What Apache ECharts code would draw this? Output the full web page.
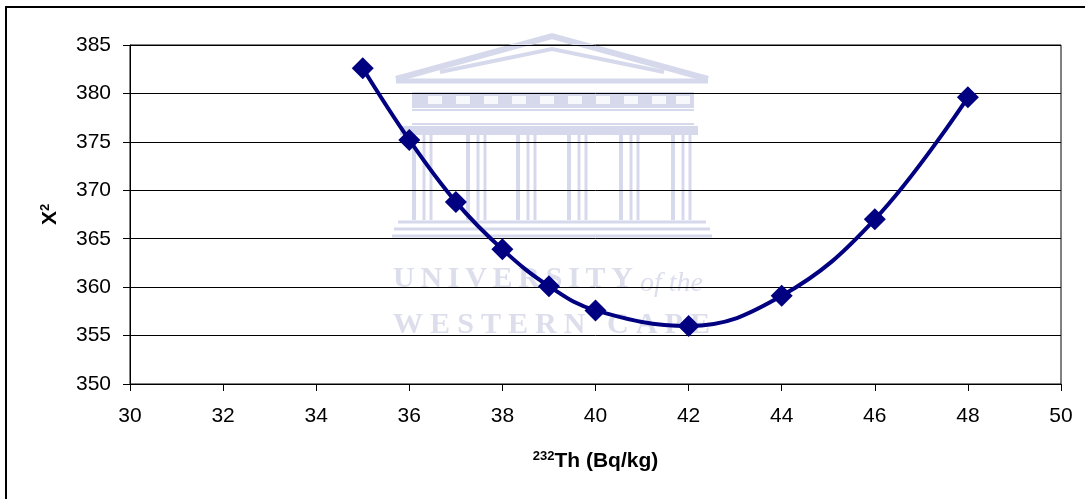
<!DOCTYPE html>
<html>
<head>
<meta charset="utf-8">
<script src="https://cdn.jsdelivr.net/npm/echarts@6/dist/echarts.min.js"></script>
<style>
  html, body { margin: 0; padding: 0; background: #fff; }
  #chart { width: 1085px; height: 499px; }
</style>
</head>
<body>
<div id="chart"></div>
<script>
// Chi-square scan over the 232Th activity concentration
const thActivity = [35, 36, 37, 38, 39, 40, 42, 44, 46, 48];
const chiSquare  = [382.6, 375.2, 368.8, 363.9, 360.1, 357.6, 356.0, 359.1, 367.0, 379.6];
const xTicks = { min: 30, max: 50, step: 2 };
const yTicks = { min: 350, max: 385, step: 5 };

const FONT = '"Liberation Sans", Arial, sans-serif';
const SERIF = '"Liberation Serif", "Times New Roman", serif';
const WM = '#d6d9eb';      // faint crest colour
const WM_TEXT = '#dcdeec';

// spread the letters of a word evenly between two x positions
const measureCtx = document.createElement('canvas').getContext('2d');
function spacedText(str, font, x0, x1, y) {
  measureCtx.font = font;
  const widths = [...str].map(c => measureCtx.measureText(c).width);
  const natural = widths.reduce((a, b) => a + b, 0);
  const gap = (x1 - x0 - natural) / (str.length - 1);
  const out = [];
  let x = x0;
  [...str].forEach((c, i) => {
    if (c !== ' ') {
      out.push({ type: 'text', z: 0, silent: true, x: x, y: y,
        style: { text: c, font: font, fill: WM_TEXT, textVerticalAlign: 'top' } });
    }
    x += widths[i] + gap;
  });
  return out;
}

// the university crest drawn lightly behind the plot
function crest() {
  const g = [];
  const line = (x1, y1, x2, y2, w) => g.push({ type: 'line', z: 0, silent: true,
    shape: { x1, y1, x2, y2 }, style: { stroke: WM, lineWidth: w } });
  const rect = (x, y, w, h, fill) => g.push({ type: 'rect', z: 0, silent: true,
    shape: { x, y, width: w, height: h }, style: { fill: fill } });
  // pediment
  g.push({ type: 'polyline', z: 0, silent: true,
    shape: { points: [[396, 79], [552, 36], [708, 79]] },
    style: { stroke: WM, lineWidth: 6, fill: null } });
  g.push({ type: 'polyline', z: 0, silent: true,
    shape: { points: [[440, 72], [552, 49], [664, 72]] },
    style: { stroke: WM, lineWidth: 4, fill: null } });
  line(396, 81, 708, 81, 5);
  // entablature with metopes
  rect(412, 92, 282, 16, WM);
  [428, 456, 484, 512, 540, 568, 596, 624, 652, 676].forEach(x => rect(x, 96, 14, 8, '#f7f8fc'));
  line(412, 110, 694, 110, 2);
  line(412, 124, 694, 124, 2);
  rect(400, 126, 298, 9, WM);
  // columns
  [422, 476, 526, 577, 629, 681].forEach(cx => {
    line(cx - 8, 135, cx - 8, 220, 4);
    line(cx + 2, 135, cx + 2, 220, 3);
    line(cx + 9, 135, cx + 9, 220, 3);
  });
  // steps
  line(398, 222, 706, 222, 3);
  line(394, 229, 710, 229, 3);
  line(392, 236, 712, 236, 3);
  return g;
}

const graphics = [
  // outer frame of the chart area
  { type: 'rect', z: 10, silent: true, shape: { x: 6, y: 7, width: 2000, height: 2000 },
    style: { stroke: '#000', lineWidth: 2, fill: null } },
  ...crest(),
  ...spacedText('UNIVERSITY', 'bold 30px ' + SERIF, 393, 633, 264),
  { type: 'text', z: 0, silent: true, x: 640, y: 270,
    style: { text: 'of the', font: 'italic 28px ' + SERIF, fill: WM_TEXT, textVerticalAlign: 'top' } },
  ...spacedText('WESTERN CAPE', 'bold 30px ' + SERIF, 393, 710, 310)
];

const nameRich = {
  sup: { fontFamily: FONT, fontSize: 13, fontWeight: 'bold', color: '#000', padding: [0, 0, 10, 0] },
  b: { fontFamily: FONT, fontSize: 21, fontWeight: 'bold', color: '#000' }
};

const chart = echarts.init(document.getElementById('chart'));
chart.setOption({
  animation: false,
  backgroundColor: '#fff',
  grid: { left: 130, right: 24, top: 45, bottom: 115, show: true,
          borderColor: '#000', borderWidth: 1, backgroundColor: 'transparent' },
  graphic: graphics,
  xAxis: {
    type: 'value',
    min: xTicks.min, max: xTicks.max, interval: xTicks.step,
    axisLine: { show: true, lineStyle: { color: '#000', width: 1 } },
    axisTick: { show: true, length: 7, lineStyle: { color: '#000' } },
    axisLabel: { color: '#000', fontFamily: FONT, fontSize: 21, margin: 22 },
    splitLine: { show: false },
    name: '{sup|232}{b|Th (Bq/kg)}',
    nameLocation: 'middle',
    nameGap: 66,
    nameTextStyle: { rich: nameRich }
  },
  yAxis: {
    type: 'value',
    min: yTicks.min, max: yTicks.max, interval: yTicks.step,
    axisLine: { show: true, lineStyle: { color: '#000', width: 1 } },
    axisTick: { show: true, length: 7, lineStyle: { color: '#000' } },
    axisLabel: { color: '#000', fontFamily: FONT, fontSize: 21, margin: 19 },
    splitLine: { show: true, lineStyle: { color: '#000', width: 1 } },
    name: '{b|X}{sup|2}',
    nameLocation: 'middle',
    nameGap: 68,
    nameRotate: 90,
    nameTextStyle: { rich: nameRich }
  },
  series: [{
    type: 'line',
    data: thActivity.map((x, i) => [x, chiSquare[i]]),
    smooth: 0.4,
    symbol: 'diamond',
    symbolSize: 22,
    showAllSymbol: true,
    lineStyle: { color: '#000080', width: 4 },
    itemStyle: { color: '#000080', borderWidth: 0 },
    z: 5
  }]
});
</script>
</body>
</html>
